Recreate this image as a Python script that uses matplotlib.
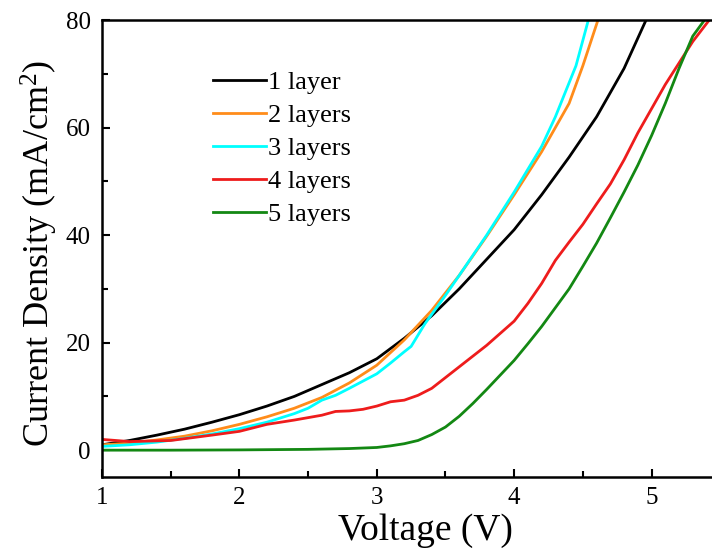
import matplotlib
matplotlib.use("Agg")
import matplotlib.pyplot as plt
from matplotlib.ticker import MultipleLocator

# J-V curves
v1 = [1.0, 1.2, 1.4, 1.6, 1.8, 2.0, 2.2, 2.4, 2.6, 2.8, 3.0, 3.2, 3.4, 3.6, 3.8, 4.0, 4.2, 4.4, 4.6, 4.8, 4.96]
j1 = [1.0, 1.8, 2.8, 3.9, 5.2, 6.6, 8.2, 10.0, 12.2, 14.4, 17.0, 20.8, 25.0, 30.0, 35.5, 41.0, 47.5, 54.5, 62.0, 71.0, 80.0]

v2 = [1.0, 1.2, 1.4, 1.6, 1.8, 2.0, 2.2, 2.4, 2.6, 2.8, 3.0, 3.2, 3.4, 3.6, 3.8, 4.0, 4.2, 4.4, 4.5, 4.61]
j2 = [1.0, 1.3, 1.9, 2.6, 3.6, 4.8, 6.2, 7.8, 9.8, 12.5, 15.8, 20.5, 26.0, 32.5, 39.8, 47.5, 55.5, 64.5, 71.5, 80.0]

v3 = [1.0, 1.2, 1.4, 1.6, 1.8, 2.0, 2.2, 2.4, 2.5, 2.6, 2.7, 2.8, 3.0, 3.1, 3.2, 3.25, 3.35, 3.5, 3.6, 3.8,
      4.0, 4.2, 4.3, 4.45, 4.54]
j3 = [0.7, 1.0, 1.5, 2.2, 3.0, 4.0, 5.2, 6.8, 7.8, 9.3, 10.2, 11.5, 14.2, 16.2, 18.3, 19.3, 23.5, 28.8, 32.5, 40.0,
      48.0, 56.5, 62.0, 71.5, 80.0]

v4 = [1.0, 1.2, 1.5, 1.8, 2.0, 2.2, 2.4, 2.6, 2.7, 2.8, 2.9, 3.0, 3.1, 3.2, 3.3, 3.4, 3.5, 3.6, 3.8, 4.0,
      4.1, 4.2, 4.3, 4.4, 4.5, 4.6, 4.7, 4.8, 4.9, 5.0, 5.1, 5.2, 5.3, 5.42]
j4 = [2.0, 1.6, 1.8, 2.8, 3.5, 4.8, 5.6, 6.5, 7.2, 7.3, 7.6, 8.2, 9.0, 9.3, 10.2, 11.5, 13.5, 15.5, 19.5, 24.0,
      27.3, 31.0, 35.3, 38.7, 42.0, 45.8, 49.5, 54.0, 59.0, 63.5, 68.0, 72.0, 76.0, 80.0]

v5 = [1.0, 1.5, 2.0, 2.5, 2.8, 3.0, 3.1, 3.2, 3.3, 3.4, 3.5, 3.6, 3.7, 3.8, 3.9, 4.0, 4.1, 4.2, 4.3, 4.4,
      4.5, 4.6, 4.7, 4.8, 4.9, 5.0, 5.1, 5.2, 5.3, 5.4]
j5 = [0.0, 0.0, 0.05, 0.15, 0.3, 0.5, 0.8, 1.2, 1.8, 2.9, 4.3, 6.3, 8.7, 11.3, 14.0, 16.7, 19.8, 23.0, 26.5, 30.0,
      34.2, 38.5, 43.2, 48.0, 53.0, 58.5, 64.5, 71.0, 77.0, 80.5]

labels = ["1 layer", "2 layers", "3 layers", "4 layers", "5 layers"]
colors = ["black", "#ff8c1a", "cyan", "#ee1c1c", "#138813"]

plt.rcParams["font.family"] = ["Liberation Serif", "DejaVu Serif"]
plt.rcParams["mathtext.fontset"] = "custom"
plt.rcParams["mathtext.rm"] = "Liberation Serif"
plt.rcParams["mathtext.it"] = "Liberation Serif:italic"

fig = plt.figure(figsize=(7.12, 5.56), dpi=100)
ax = fig.add_axes([0.1433, 0.142, 0.8567, 0.822])

for v, j, lab, c in zip([v1, v2, v3, v4, v5], [j1, j2, j3, j4, j5], labels, colors):
    ax.plot(v, j, color=c, lw=2.0, label=lab)

ax.set_xlim(1, 5.44)
ax.set_ylim(-5, 80)
ax.xaxis.set_major_locator(MultipleLocator(1))
ax.xaxis.set_minor_locator(MultipleLocator(0.5))
ax.yaxis.set_major_locator(MultipleLocator(20))
ax.yaxis.set_minor_locator(MultipleLocator(10))
ax.tick_params(which="both", direction="in", labelsize=18, width=1.5)
ax.tick_params(which="major", length=6)
ax.tick_params(which="minor", length=4)
ax.tick_params(axis="x", pad=7)
ax.tick_params(axis="y", pad=8)
for s in ["left", "bottom", "top"]:
    ax.spines[s].set_linewidth(1.8)
ax.spines["right"].set_visible(False)

ax.set_xlabel("Voltage (V)", fontsize=27, labelpad=3)
ax.xaxis.label.set_x(0.53)
ax.set_ylabel("Current Density (mA/cm$^{2}$)", fontsize=26, labelpad=4)
ax.yaxis.label.set_y(0.49)

ax.legend(loc="upper left", bbox_to_anchor=(0.182, 0.889), frameon=False, fontsize=19,
          handlelength=2.0, handletextpad=0.08, labelspacing=0.36, borderpad=0, borderaxespad=0)

fig.savefig("out.png", dpi=100)
